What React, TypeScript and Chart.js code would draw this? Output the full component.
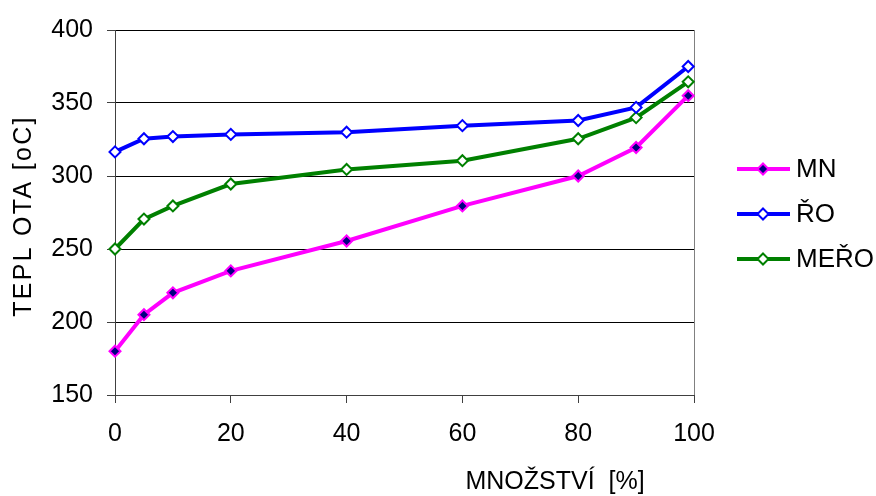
import React, { useEffect, useRef } from "react";
import { Chart, registerables } from "chart.js";

Chart.register(...registerables);

const xValues = [0, 5, 10, 20, 40, 60, 80, 90, 99];
const mnValues = [180, 205, 220, 235, 255.5, 279.5, 300, 319.5, 355];
const roValues = [316.5, 325.5, 327, 328.5, 330, 334.5, 338, 347, 375];
const meroValues = [250, 270.5, 279.5, 294.5, 304.5, 310.5, 325.5, 340, 364.5];
const seriesNames = ["MN", "ŘO", "MEŘO"];
const xTitle = "MNOŽSTVÍ  [%]";
const yTitle = "TEPL OTA [oC]";

const FONT = "'Liberation Sans', Arial, sans-serif";

export default function App() {
  const ref = useRef<HTMLCanvasElement | null>(null);
  useEffect(() => {
    document.body.style.margin = "0";
    const ctx = ref.current!.getContext("2d")!;
    const mk = (vals: number[]) => xValues.map((x, i) => ({ x, y: vals[i] }));

    const frame = {
      id: "frame",
      beforeDatasetsDraw(chart: any) {
        const { ctx, chartArea: a } = chart;
        ctx.save();
        ctx.strokeStyle = "#808080";
        ctx.lineWidth = 1;
        ctx.beginPath();
        ctx.moveTo(Math.round(a.right) + 0.5, a.top);
        ctx.lineTo(Math.round(a.right) + 0.5, a.bottom);
        ctx.stroke();
        ctx.restore();
      },
      afterDraw(chart: any) {
        const { ctx, chartArea: a } = chart;
        ctx.save();
        ctx.fillStyle = "#000";
        ctx.font = `25px ${FONT}`;
        ctx.textAlign = "center";
        ctx.textBaseline = "middle";
        ctx.fillText(xTitle, 555, 482);
        ctx.save();
        ctx.translate(24, 216);
        ctx.rotate(-Math.PI / 2);
        (ctx as any).letterSpacing = "2.3px";
        ctx.fillText(yTitle, 0, 0);
        (ctx as any).letterSpacing = "0px";
        ctx.restore();
        // legend
        const ys = [169, 214, 259];
        chart.data.datasets.forEach((ds: any, i: number) => {
          const y = ys[i];
          ctx.strokeStyle = ds.borderColor;
          ctx.lineWidth = 4;
          ctx.beginPath();
          ctx.moveTo(737, y);
          ctx.lineTo(790, y);
          ctx.stroke();
          const r = 5.5;
          ctx.beginPath();
          ctx.moveTo(763, y - r);
          ctx.lineTo(763 + r, y);
          ctx.lineTo(763, y + r);
          ctx.lineTo(763 - r, y);
          ctx.closePath();
          ctx.fillStyle = ds.pointBackgroundColor;
          ctx.fill();
          ctx.lineWidth = 2;
          ctx.strokeStyle = ds.pointBorderColor;
          ctx.stroke();
          ctx.fillStyle = "#000";
          ctx.font = `26px ${FONT}`;
          ctx.textAlign = "left";
          ctx.textBaseline = "middle";
          ctx.fillText(seriesNames[i], 796, y + 1);
        });
        ctx.restore();
      },
    };

    const common = {
      borderWidth: 4,
      pointStyle: "rectRot",
      pointRadius: 5.5,
      pointBorderWidth: 2,
      tension: 0,
      clip: false,
    };

    const chart = new Chart(ctx, {
      type: "line",
      data: {
        datasets: [
          {
            ...common,
            label: seriesNames[0],
            data: mk(mnValues),
            borderColor: "#FF00FF",
            pointBorderColor: "#FF00FF",
            pointBackgroundColor: "#000080",
          },
          {
            ...common,
            label: seriesNames[1],
            data: mk(roValues),
            borderColor: "#0000FF",
            pointBorderColor: "#0000FF",
            pointBackgroundColor: "#FFFFFF",
          },
          {
            ...common,
            label: seriesNames[2],
            data: mk(meroValues),
            borderColor: "#008000",
            pointBorderColor: "#008000",
            pointBackgroundColor: "#FFFFFF",
          },
        ],
      } as any,
      options: {
        animation: false,
        responsive: false,
        devicePixelRatio: 1,
        layout: { padding: { top: 30, right: 182, left: 0, bottom: 0 } },
        plugins: { legend: { display: false }, tooltip: { enabled: false } },
        scales: {
          x: {
            type: "linear",
            min: 0,
            max: 100,
            ticks: { stepSize: 20, color: "#000", font: { family: FONT, size: 25 }, padding: 16 },
            grid: { drawOnChartArea: false, drawTicks: true, tickLength: 8, color: "#404040" },
            border: { color: "#404040", width: 1 },
            afterFit: (s: any) => { s.height = 101; },
          },
          y: {
            min: 150,
            max: 400,
            ticks: { stepSize: 50, color: "#000", font: { family: FONT, size: 25 }, padding: 14 },
            grid: { color: "#000", tickLength: 8, lineWidth: 1, tickColor: "#404040" },
            border: { color: "#404040", width: 1 },
            afterFit: (s: any) => { s.width = 115; },
          },
        },
      } as any,
      plugins: [frame],
    });
    return () => chart.destroy();
  }, []);
  return (
    <div style={{ position: "absolute", left: 0, top: 0, width: 876, height: 496, background: "#fff" }}>
      <canvas ref={ref} width={876} height={496} style={{ width: 876, height: 496 }} />
    </div>
  );
}
